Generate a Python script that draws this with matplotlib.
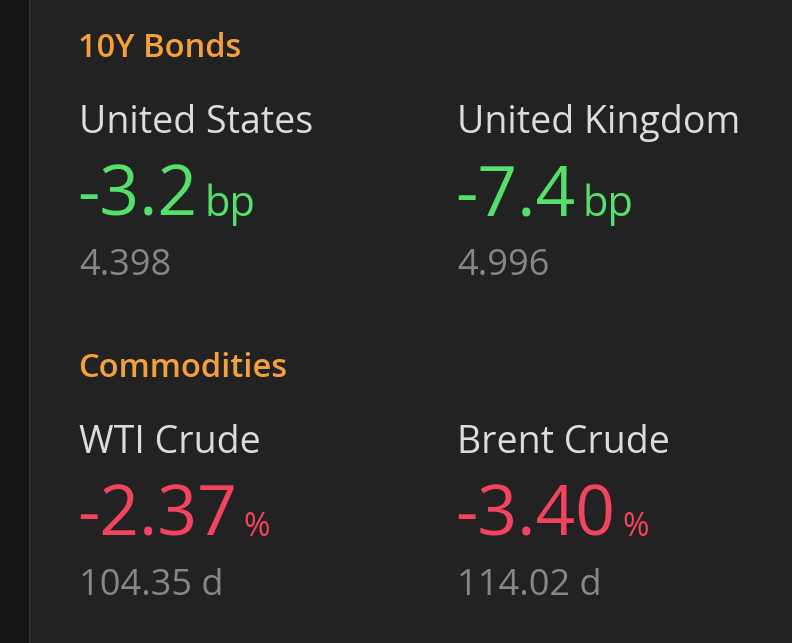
import matplotlib
matplotlib.use("Agg")
import matplotlib.pyplot as plt

sections = ["10Y Bonds", "Commodities"]
names = [["United States", "United Kingdom"], ["WTI Crude", "Brent Crude"]]
changes = [["-3.2", "-7.4"], ["-2.37", "-3.40"]]
units = ["bp", "%"]
levels = [["4.398", "4.996"], ["104.35 d", "114.02 d"]]
change_colors = ["#55E06C", "#F2445E"]

FONT = ["Open Sans", "DejaVu Sans"]
fig = plt.figure(figsize=(7.92, 6.43), dpi=100, facecolor="#222222")
ax = fig.add_axes([0, 0, 1, 1])
ax.set_xlim(0, 792); ax.set_ylim(643, 0); ax.axis("off")
ax.set_facecolor("#222222")
ax.axvspan(0, 30, color="#151515", zorder=0)
ax.axvline(30, color="#2e2e2e", lw=1.5)

col_x = [80, 458]
sec_y = [57, 377]
fig.canvas.draw()
r = fig.canvas.get_renderer()
for s in range(2):
    y0 = sec_y[s]
    ax.text(78, y0, sections[s], color="#F5A03C", fontsize=23.5, fontweight="semibold",
            family=FONT, va="baseline")
    for c in range(2):
        x = col_x[c]
        ax.text(x - 1, y0 + 76, names[s][c], color="#DCDCDC", fontsize=27, family=FONT, va="baseline")
        t = ax.text(x - 3, y0 + 159, changes[s][c], color=change_colors[s], fontsize=50,
                    family=FONT, va="baseline")
        bb = t.get_window_extent(renderer=r)
        ux = ax.transData.inverted().transform((bb.x1, 0))[0] + 7
        ax.text(ux, y0 + 159, units[s], color=change_colors[s], fontsize=30 if s == 0 else 23,
                family=FONT, va="baseline")
        ax.text(x - 1, y0 + 218, levels[s][c], color="#878787", fontsize=26, family=FONT, va="baseline")

fig.savefig("out.png", dpi=100, facecolor=fig.get_facecolor())
